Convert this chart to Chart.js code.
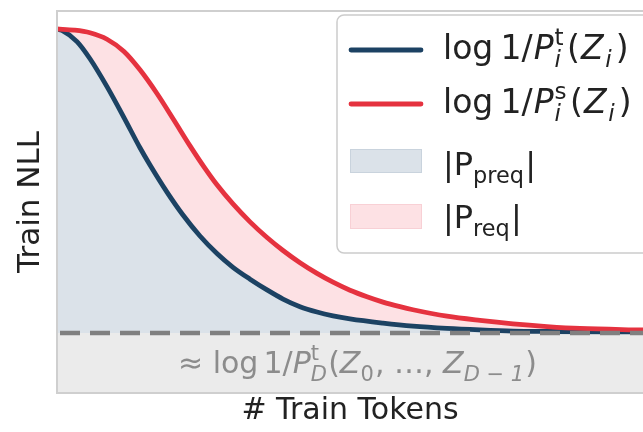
<!DOCTYPE html>
<html><head><meta charset="utf-8">
<script src="https://cdn.jsdelivr.net/npm/chart.js@4/dist/chart.umd.min.js"></script>
<style>html,body{margin:0;padding:0;background:#fff;}</style>
</head><body>
<canvas id="c" width="643" height="432"></canvas>
<script>
// ---- data (x: train tokens, arbitrary units 0..100; y: train NLL, arbitrary units) ----
const teacherTokens = [0, 0.85, 3.41, 5.63, 8.53, 11.43, 14.16, 15.87, 18.77, 21.5, 24.4, 27.3, 30.03, 32.94, 35.84, 38.57, 41.47, 44.37, 47.1, 50, 55.63, 60.75, 66.55, 72.18, 77.82, 83.62, 100];
const teacherNLL    = [9.53, 9.49, 9.20, 8.75, 8.02, 7.21, 6.42, 5.97, 5.26, 4.66, 4.11, 3.65, 3.29, 2.98, 2.70, 2.46, 2.26, 2.12, 2.02, 1.94, 1.83, 1.75, 1.69, 1.65, 1.62, 1.61, 1.60];
const studentTokens = [0, 2.9, 5.63, 8.53, 11.43, 14.16, 17.06, 19.97, 22.7, 25.26, 27.3, 30.03, 32.94, 35.84, 38.57, 41.47, 44.37, 47.1, 50, 52.9, 55.63, 58.53, 60.75, 66.55, 72.18, 77.82, 83.62, 89.25, 100];
const studentNLL    = [9.53, 9.50, 9.43, 9.26, 8.94, 8.46, 7.84, 7.14, 6.47, 5.88, 5.45, 4.95, 4.48, 4.07, 3.73, 3.41, 3.13, 2.90, 2.69, 2.52, 2.38, 2.26, 2.18, 2.01, 1.90, 1.81, 1.74, 1.69, 1.65];
const floorTokens = [0, 100];
const floorNLL = [1.57, 1.57];
const xTitle = '# Train Tokens';
const yTitle = 'Train NLL';
const seriesLabels = ['log 1/P_i^t(Z_i)', 'log 1/P_i^s(Z_i)', '|P_preq|', '|P_req|'];
const floorLabel = '≈ log 1/P_D^t(Z_0, ..., Z_{D−1})';

const toPts = (xs, ys) => xs.map((x, i) => ({x, y: ys[i]}));

const BLUE = '#1c4263', RED = '#e5323f';
const BLUE_FILL = '#dbe2e9', PINK_FILL = '#fde1e4', BAND = '#ebebeb';
const FONT = '"DejaVu Sans", sans-serif';

// rich text drawing: segments {t, it, gap} or scripts {sup, sub, supIt, subIt, gap}
function drawRich(ctx, x, y, size, segs, color) {
  ctx.fillStyle = color;
  ctx.textBaseline = 'alphabetic';
  ctx.textAlign = 'left';
  const f = (s, it) => (it ? 'italic ' : '') + s + 'px ' + FONT;
  for (const s of segs) {
    if (s.t !== undefined) {
      ctx.font = f(size, s.it);
      ctx.fillText(s.t, x, y);
      x += ctx.measureText(s.t).width + (s.gap || 0) * size;
    } else {
      const ss = size * 0.7;
      let w = 0;
      if (s.sup) { ctx.font = f(ss, s.supIt); ctx.fillText(s.sup, x, y - size * 0.42); w = Math.max(w, ctx.measureText(s.sup).width); }
      if (s.sub) { ctx.font = f(ss, s.subIt); ctx.fillText(s.sub, x, y + size * 0.25); w = Math.max(w, ctx.measureText(s.sub).width); }
      x += w + (s.gap || 0.04) * size;
    }
  }
}

const legendRich = [
  [{t:'log', gap:0.22}, {t:'1/', gap:0.03}, {t:'P', it:true, gap:0.03}, {sup:'t', sub:'i', subIt:true, gap:0.1}, {t:'(', gap:0.04}, {t:'Z', it:true, gap:0.05}, {sub:'i', subIt:true, gap:0.12}, {t:')'}],
  [{t:'log', gap:0.22}, {t:'1/', gap:0.03}, {t:'P', it:true, gap:0.03}, {sup:'s', sub:'i', subIt:true, gap:0.1}, {t:'(', gap:0.04}, {t:'Z', it:true, gap:0.05}, {sub:'i', subIt:true, gap:0.12}, {t:')'}],
  [{t:'|P'}, {sub:'preq'}, {t:'|'}],
  [{t:'|P'}, {sub:'req'}, {t:'|'}]
];
const floorRich = [{t:'≈ ', gap:0}, {t:'log', gap:0.17}, {t:'1/'}, {t:'P', it:true}, {sup:'t', sub:'D', subIt:true}, {t:'('}, {t:'Z', it:true}, {sub:'0'}, {t:', …, '}, {t:'Z', it:true}, {sub:'D − 1', subIt:true}, {t:')'}];

const decor = {
  id: 'decor',
  afterDraw(chart) {
    const {ctx, chartArea: a} = chart;
    ctx.save();
    // frame
    ctx.strokeStyle = '#cfcfcf'; ctx.lineWidth = 2;
    ctx.beginPath();
    ctx.moveTo(a.right + 5, a.top); ctx.lineTo(a.left, a.top); ctx.lineTo(a.left, a.bottom); ctx.lineTo(a.right + 5, a.bottom);
    ctx.stroke();
    // floor label
    drawRich(ctx, 178, 373, 30, floorRich, '#8c8c8c');
    // legend box
    const bx = 337, by = 15, bw = 330, bh = 238, r = 7;
    ctx.beginPath();
    ctx.roundRect(bx, by, bw, bh, r);
    ctx.fillStyle = 'rgba(255,255,255,0.85)'; ctx.fill();
    ctx.strokeStyle = '#cccccc'; ctx.lineWidth = 1.5; ctx.stroke();
    // handles
    ctx.lineCap = 'round'; ctx.lineWidth = 4.8;
    ctx.strokeStyle = BLUE; ctx.beginPath(); ctx.moveTo(351, 50); ctx.lineTo(421, 50); ctx.stroke();
    ctx.strokeStyle = RED;  ctx.beginPath(); ctx.moveTo(351, 104); ctx.lineTo(421, 104); ctx.stroke();
    ctx.lineWidth = 1;
    ctx.fillStyle = BLUE_FILL; ctx.fillRect(350, 149, 72, 24); ctx.strokeStyle = '#c9d3dd'; ctx.strokeRect(350.5, 149.5, 71, 23);
    ctx.fillStyle = PINK_FILL; ctx.fillRect(350, 204, 72, 25); ctx.strokeStyle = '#f8d0d5'; ctx.strokeRect(350.5, 204.5, 71, 24);
    const baselines = [59, 113, 175, 228];
    const sizes = [33, 33, 32, 32];
    legendRich.forEach((segs, i) => drawRich(ctx, 443, baselines[i], sizes[i], segs, '#222222'));
    ctx.restore();
  }
};

new Chart(document.getElementById('c'), {
  type: 'line',
  data: {
    datasets: [
      { label: floorLabel, data: toPts(floorTokens, floorNLL), borderColor: '#808080', borderWidth: 4.5,
        borderDash: [20, 10], borderDashOffset: 27, backgroundColor: BAND, fill: 'origin', pointRadius: 0, order: 0 },
      { label: seriesLabels[1], data: toPts(studentTokens, studentNLL), borderColor: RED, borderWidth: 4.8,
        backgroundColor: PINK_FILL, fill: 2, pointRadius: 0, cubicInterpolationMode: 'monotone', order: 1 },
      { label: seriesLabels[0], data: toPts(teacherTokens, teacherNLL), borderColor: BLUE, borderWidth: 4.8,
        backgroundColor: BLUE_FILL, fill: 0, pointRadius: 0, cubicInterpolationMode: 'monotone', order: 2 }
    ]
  },
  options: {
    responsive: false, animation: false, devicePixelRatio: 1,
    layout: { padding: { top: 11, right: 0, left: 0, bottom: 0 } },
    plugins: { legend: { display: false }, tooltip: { enabled: false }, filler: { drawTime: 'beforeDatasetsDraw' } },
    scales: {
      x: { type: 'linear', min: 0, max: 100,
           ticks: { display: false }, grid: { display: false, drawTicks: false }, border: { display: false },
           title: { display: true, text: xTitle, color: '#222222', font: { family: FONT, size: 30 }, padding: { top: 0, bottom: 3 } } },
      y: { type: 'linear', min: 0, max: 10,
           ticks: { display: false }, grid: { display: false, drawTicks: false }, border: { display: false },
           title: { display: true, text: yTitle, color: '#222222', font: { family: FONT, size: 31 }, padding: { top: 12.4, bottom: 7.4 } } }
    }
  },
  plugins: [decor]
});
</script>
</body></html>
